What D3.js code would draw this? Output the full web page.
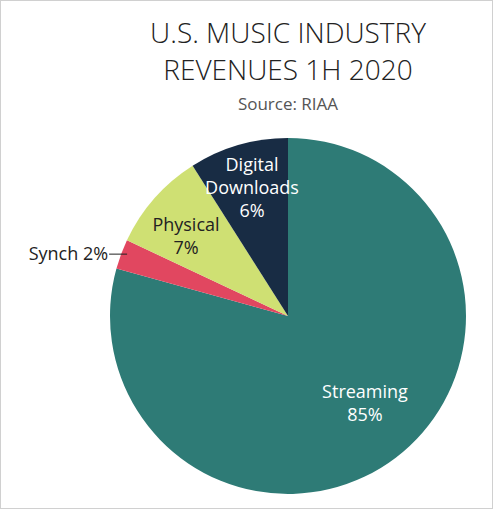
<!DOCTYPE html>
<html>
<head>
<meta charset="utf-8">
<script src="https://cdn.jsdelivr.net/npm/d3@7"></script>
<style>
body { margin: 0; background: #fff; }
svg { display: block; }
</style>
</head>
<body>
<div id="chart"></div>
<script>
var categories = ["Streaming", "Synch", "Physical", "Digital Downloads"];
var labelShares = [85, 2, 7, 6];
// wedge sizes as drawn in the picture
var drawnShares = [79.3, 2.7, 9, 9];
var colors = ["#2e7b76", "#e14760", "#cfe073", "#182c44"];

var width = 493, height = 509;
var cx = 288, cy = 316, radius = 178;

var svg = d3.select("#chart").append("svg")
    .attr("width", width).attr("height", height);

svg.append("rect")
    .attr("x", 0.5).attr("y", 0.5)
    .attr("width", width - 1).attr("height", height - 1)
    .attr("fill", "#fff").attr("stroke", "#d0d0d0");

var font = "'Open Sans', 'DejaVu Sans', sans-serif";
svg.append("text").attr("x", 288).attr("y", 43)
    .attr("text-anchor", "middle").style("font-family", font)
    .style("font-size", "28px").style("font-weight", 300).attr("fill", "#222")
    .text("U.S. MUSIC INDUSTRY");
svg.append("text").attr("x", 288).attr("y", 80)
    .attr("text-anchor", "middle").style("font-family", font)
    .style("font-size", "28px").style("font-weight", 300).attr("fill", "#222")
    .text("REVENUES 1H 2020");
svg.append("text").attr("x", 288).attr("y", 110)
    .attr("text-anchor", "middle").style("font-family", font)
    .style("font-size", "17px").attr("fill", "#555")
    .text("Source: RIAA");

var pie = d3.pie().sort(null).value(function(d) { return d; });
var arcs = pie(drawnShares);
var arc = d3.arc().innerRadius(0).outerRadius(radius);

var g = svg.append("g").attr("transform", "translate(" + cx + "," + cy + ")");
g.selectAll("path").data(arcs).enter().append("path")
    .attr("d", arc)
    .attr("fill", function(d, i) { return colors[i]; });

function label(lines, x, y, fill) {
    var t = g.append("text").attr("text-anchor", "middle")
        .style("font-family", font).style("font-size", "18px")
        .attr("fill", fill);
    lines.forEach(function(l, k) {
        t.append("tspan").attr("x", x).attr("y", y + k * 23).text(l);
    });
}

label(["Streaming", labelShares[0] + "%"], 77, 82, "#fff");
label(["Physical", labelShares[2] + "%"], -102, -85, "#222");
label(["Digital", "Downloads", "6%"], -36, -145, "#fff");

// synch leader line
var a1 = d3.arc().innerRadius(radius).outerRadius(radius).centroid(arcs[1]);
g.append("line")
    .attr("x1", a1[0] + 6).attr("y1", a1[1])
    .attr("x2", a1[0] - 12).attr("y2", a1[1])
    .attr("stroke", "#222").attr("stroke-width", 1);
g.append("text").attr("x", a1[0] - 13).attr("y", a1[1] + 6)
    .attr("text-anchor", "end").style("font-family", font)
    .style("font-size", "18px").attr("fill", "#222")
    .text(categories[1] + " " + labelShares[1] + "%");
</script>
</body>
</html>
